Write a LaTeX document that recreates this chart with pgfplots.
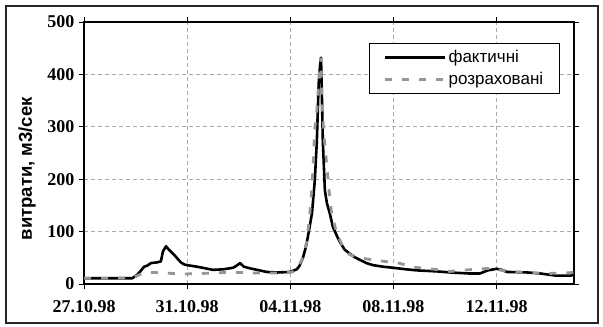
\documentclass[border=0pt]{standalone}
\usepackage{fontspec}
\setmainfont{Liberation Sans}
\newfontfamily\tickfont{Liberation Serif}
\usepackage{pgfplots}
\pgfplotsset{compat=1.18}
\definecolor{calc}{RGB}{150,150,150}
\definecolor{gridc}{RGB}{170,170,170}
\begin{document}
\begin{tikzpicture}
\path[use as bounding box] (0,0) rectangle (603bp,327bp);
\draw[line width=1.5bp, black!85] (6bp,4bp) rectangle (598bp,321bp);
\begin{axis}[
  at={(84bp,43bp)}, anchor=south west,
  scale only axis, width=490bp, height=262bp,
  xmin=0, xmax=19, ymin=0, ymax=500,
  xtick={0,4,8,12,16},
  xticklabels={27.10.98,31.10.98,04.11.98,08.11.98,12.11.98},
  ytick={0,100,200,300,400,500},
  tick align=outside, major tick length=5bp,
  tick style={black, line width=1bp},
  axis line style={line width=1.3bp},
  grid=major,
  major grid style={gridc, dash pattern=on 4bp off 3bp, line width=0.8bp},
  ticklabel style={font=\fontsize{18bp}{21bp}\tickfont\bfseries},
  xticklabel style={yshift=-8bp},
  yticklabel style={xshift=-1bp},
  /pgf/number format/assume math mode=true,
  ylabel={витрати, м3/сек},
  ylabel style={at={(axis description cs:-0.1163,0.44)}, anchor=center, font=\fontsize{18.5bp}{22bp}\selectfont\bfseries},
  legend style={at={(rel axis cs:0.971,0.92)}, anchor=north east, draw=black, line width=1.2bp,
    font=\fontsize{17bp}{20bp}\selectfont, inner xsep=14bp, inner ysep=5bp, row sep=4bp},
  legend cell align=left,
  legend image code/.code={\draw[#1] (0bp,0bp) -- (60bp,0bp);},
]
\addplot[black, line width=2.6bp, line join=round] coordinates {
(0,11) (0.5,11) (1.0,11) (1.5,11) (1.87,11) (2.05,17) (2.2,25) (2.33,33) (2.45,35)
(2.6,40) (2.8,41) (2.98,43) (3.06,62) (3.18,72) (3.3,65) (3.49,56) (3.65,47) (3.76,41)
(3.9,37) (4.0,36) (4.38,33) (4.7,30) (5.0,27) (5.4,28) (5.78,31) (5.95,36) (6.05,40)
(6.2,33) (6.43,30) (6.8,26) (7.09,23) (7.5,22) (7.98,23) (8.25,28) (8.35,34) (8.49,50)
(8.6,70) (8.68,90) (8.84,135) (8.95,198) (9.03,274) (9.07,337) (9.1,383) (9.15,415)
(9.19,432) (9.22,370) (9.26,274) (9.34,179) (9.42,154) (9.53,135) (9.65,109) (9.84,88)
(9.95,78) (10.1,66) (10.3,58) (10.5,51) (10.7,46) (10.95,40) (11.2,36) (11.6,33)
(11.98,31) (12.5,28) (12.9,26) (13.3,25) (13.7,24) (14.2,22) (14.96,20) (15.35,20)
(15.66,26) (16.0,29) (16.2,27) (16.4,23) (17.2,22) (17.7,20) (18.3,16) (18.9,16) (19.0,21)
};
\addlegendentry{фактичні}
\addplot[calc, line width=2.8bp, dash pattern=on 7bp off 10bp] coordinates {
(0,11) (1.0,11) (1.9,12) (2.3,21) (2.7,22) (3.1,21) (3.5,20) (3.8,19) (4.5,20) (5.0,21)
(5.5,22) (6.0,22) (6.5,21) (7.0,21) (7.5,21) (8.0,22) (8.2,25) (8.45,46) (8.64,81)
(8.75,130) (8.84,185) (8.88,223) (8.95,297) (9.03,331) (9.1,383) (9.19,432) (9.22,350)
(9.3,287) (9.42,223) (9.5,179) (9.6,135) (9.8,97) (10.04,71) (10.3,56) (10.8,49)
(11.5,44) (12.2,40) (12.8,32) (13.6,28) (14.2,24) (15.1,28) (15.8,30) (16.4,24)
(17.2,22) (17.9,20) (18.6,21) (19.0,22)
};
\addlegendentry{розраховані}
\end{axis}
\end{tikzpicture}
\end{document}
